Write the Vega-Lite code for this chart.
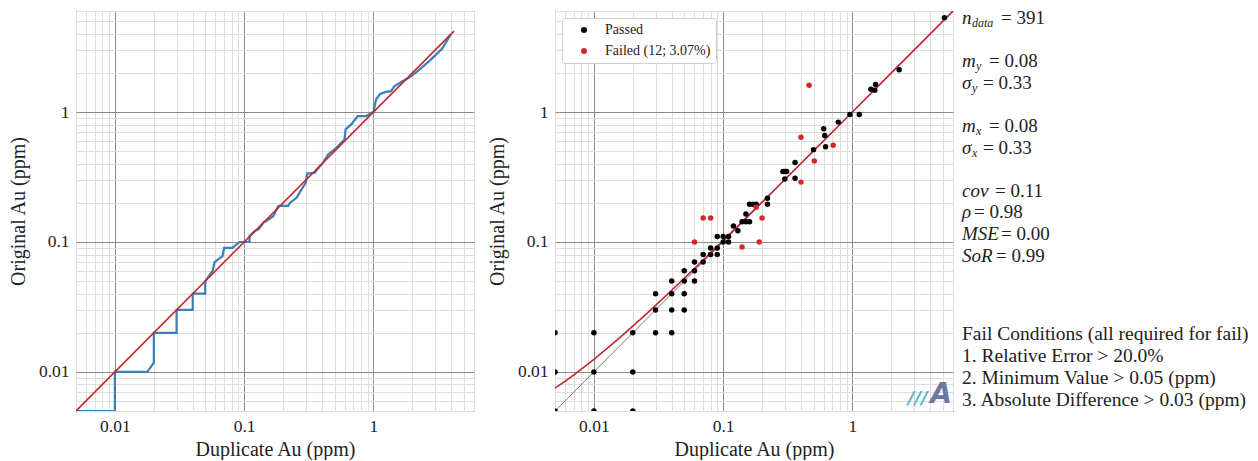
{
  "$schema": "https://vega.github.io/schema/vega-lite/v6.json",
  "padding": {"left": 7, "top": 1, "right": 0, "bottom": 0},
  "autosize": {"type": "pad"},
  "bounds": "flush",
  "spacing": 81,
  "resolve": {"legend": {"color": "independent"}},
  "config": {
    "font": "Liberation Serif",
    "background": "white",
    "view": {"stroke": "#222", "strokeWidth": 1},
    "axis": {
      "labelFont": "Liberation Serif", "labelFontSize": 17.5, "labelColor": "#222",
      "titleFont": "Liberation Serif", "titleFontSize": 20, "titleFontWeight": "normal", "titleColor": "#222",
      "ticks": false, "domain": false,
      "labelOverlap": false, "labelFlush": false, "gridWidth": 1
    },
    "axisX": {"labelPadding": 6, "titlePadding": 5},
    "axisY": {"labelPadding": 7, "titlePadding": 10},
    "legend": {
      "orient": "top-left", "offset": 7, "labelFont": "Liberation Serif", "labelFontSize": 14, "labelColor": "#222",
      "symbolType": "circle", "symbolSize": 36, "fillColor": "white", "strokeColor": "#d0d0d0",
      "cornerRadius": 3, "padding": 5, "labelOffset": 14, "rowPadding": 7, "symbolOffset": 10
    }
  },
  "datasets": {
    "qq": [
      {"i": 0, "dup": 0.005, "orig": 0.005}, {"i": 1, "dup": 0.01, "orig": 0.005}, {"i": 2, "dup": 0.01, "orig": 0.01},
      {"i": 3, "dup": 0.0178, "orig": 0.01}, {"i": 4, "dup": 0.02, "orig": 0.0118}, {"i": 5, "dup": 0.02, "orig": 0.02},
      {"i": 6, "dup": 0.03, "orig": 0.02}, {"i": 7, "dup": 0.03, "orig": 0.03}, {"i": 8, "dup": 0.04, "orig": 0.03},
      {"i": 9, "dup": 0.04, "orig": 0.04}, {"i": 10, "dup": 0.05, "orig": 0.04}, {"i": 11, "dup": 0.05, "orig": 0.05},
      {"i": 12, "dup": 0.057, "orig": 0.06}, {"i": 13, "dup": 0.059, "orig": 0.07}, {"i": 14, "dup": 0.068, "orig": 0.078},
      {"i": 15, "dup": 0.07, "orig": 0.09}, {"i": 16, "dup": 0.081, "orig": 0.09}, {"i": 17, "dup": 0.092, "orig": 0.1},
      {"i": 18, "dup": 0.11, "orig": 0.1}, {"i": 19, "dup": 0.11, "orig": 0.111}, {"i": 20, "dup": 0.122, "orig": 0.122},
      {"i": 21, "dup": 0.129, "orig": 0.125}, {"i": 22, "dup": 0.141, "orig": 0.141}, {"i": 23, "dup": 0.154, "orig": 0.149},
      {"i": 24, "dup": 0.168, "orig": 0.158}, {"i": 25, "dup": 0.178, "orig": 0.178}, {"i": 26, "dup": 0.184, "orig": 0.19},
      {"i": 27, "dup": 0.219, "orig": 0.19}, {"i": 28, "dup": 0.226, "orig": 0.2}, {"i": 29, "dup": 0.254, "orig": 0.219},
      {"i": 30, "dup": 0.278, "orig": 0.254}, {"i": 31, "dup": 0.3, "orig": 0.286}, {"i": 32, "dup": 0.307, "orig": 0.336},
      {"i": 33, "dup": 0.352, "orig": 0.341}, {"i": 34, "dup": 0.367, "orig": 0.362}, {"i": 35, "dup": 0.408, "orig": 0.408},
      {"i": 36, "dup": 0.446, "orig": 0.472}, {"i": 37, "dup": 0.501, "orig": 0.516}, {"i": 38, "dup": 0.598, "orig": 0.616},
      {"i": 39, "dup": 0.609, "orig": 0.736}, {"i": 40, "dup": 0.673, "orig": 0.804}, {"i": 41, "dup": 0.757, "orig": 0.932},
      {"i": 42, "dup": 0.879, "orig": 0.932}, {"i": 43, "dup": 1.0, "orig": 1.0}, {"i": 44, "dup": 1.048, "orig": 1.25},
      {"i": 45, "dup": 1.125, "orig": 1.38}, {"i": 46, "dup": 1.25, "orig": 1.43}, {"i": 47, "dup": 1.37, "orig": 1.45},
      {"i": 48, "dup": 1.45, "orig": 1.58}, {"i": 49, "dup": 1.68, "orig": 1.73}, {"i": 50, "dup": 1.89, "orig": 1.84},
      {"i": 51, "dup": 2.13, "orig": 2.01}, {"i": 52, "dup": 2.7, "orig": 2.47}, {"i": 53, "dup": 3.41, "orig": 3.09},
      {"i": 54, "dup": 3.96, "orig": 3.96}
    ],
    "line11": [{"dup": 0.005, "orig": 0.005}, {"dup": 4.2, "orig": 4.2}],
    "diag": [{"dup": 0.005, "orig": 0.005}, {"dup": 6, "orig": 6}],
    "fit": [
      {"dup": 0.005, "orig": 0.0075}, {"dup": 0.006, "orig": 0.0085}, {"dup": 0.007, "orig": 0.0095},
      {"dup": 0.008, "orig": 0.0105}, {"dup": 0.01, "orig": 0.0125}, {"dup": 0.012, "orig": 0.0145},
      {"dup": 0.015, "orig": 0.0175}, {"dup": 0.02, "orig": 0.0225}, {"dup": 0.025, "orig": 0.0275},
      {"dup": 0.03, "orig": 0.0325}, {"dup": 0.04, "orig": 0.0425}, {"dup": 0.05, "orig": 0.0525},
      {"dup": 0.07, "orig": 0.0725}, {"dup": 0.1, "orig": 0.1025}, {"dup": 0.15, "orig": 0.1525},
      {"dup": 0.2, "orig": 0.2025}, {"dup": 0.3, "orig": 0.3025}, {"dup": 0.5, "orig": 0.5025},
      {"dup": 1, "orig": 1.0025}, {"dup": 2, "orig": 2.002}, {"dup": 4, "orig": 4.0}, {"dup": 6, "orig": 6.0}
    ],
    "scatter": [
      {"dup": 0.005, "orig": 0.02, "status": "Passed"}, {"dup": 0.005, "orig": 0.01, "status": "Passed"}, {"dup": 0.005, "orig": 0.005, "status": "Passed"},
      {"dup": 0.01, "orig": 0.02, "status": "Passed"}, {"dup": 0.01, "orig": 0.01, "status": "Passed"}, {"dup": 0.01, "orig": 0.005, "status": "Passed"},
      {"dup": 0.02, "orig": 0.02, "status": "Passed"}, {"dup": 0.02, "orig": 0.01, "status": "Passed"}, {"dup": 0.02, "orig": 0.005, "status": "Passed"},
      {"dup": 0.03, "orig": 0.04, "status": "Passed"}, {"dup": 0.03, "orig": 0.03, "status": "Passed"}, {"dup": 0.03, "orig": 0.02, "status": "Passed"},
      {"dup": 0.04, "orig": 0.05, "status": "Passed"}, {"dup": 0.04, "orig": 0.04, "status": "Passed"}, {"dup": 0.04, "orig": 0.03, "status": "Passed"}, {"dup": 0.04, "orig": 0.02, "status": "Passed"},
      {"dup": 0.05, "orig": 0.06, "status": "Passed"}, {"dup": 0.05, "orig": 0.05, "status": "Passed"}, {"dup": 0.05, "orig": 0.04, "status": "Passed"}, {"dup": 0.05, "orig": 0.03, "status": "Passed"},
      {"dup": 0.06, "orig": 0.07, "status": "Passed"}, {"dup": 0.06, "orig": 0.06, "status": "Passed"}, {"dup": 0.06, "orig": 0.05, "status": "Passed"},
      {"dup": 0.07, "orig": 0.08, "status": "Passed"}, {"dup": 0.07, "orig": 0.07, "status": "Passed"},
      {"dup": 0.08, "orig": 0.09, "status": "Passed"}, {"dup": 0.08, "orig": 0.08, "status": "Passed"},
      {"dup": 0.09, "orig": 0.11, "status": "Passed"}, {"dup": 0.09, "orig": 0.09, "status": "Passed"}, {"dup": 0.09, "orig": 0.08, "status": "Passed"},
      {"dup": 0.1, "orig": 0.11, "status": "Passed"}, {"dup": 0.1, "orig": 0.1, "status": "Passed"},
      {"dup": 0.11, "orig": 0.11, "status": "Passed"}, {"dup": 0.11, "orig": 0.1, "status": "Passed"},
      {"dup": 0.12, "orig": 0.133, "status": "Passed"}, {"dup": 0.13, "orig": 0.122, "status": "Passed"},
      {"dup": 0.14, "orig": 0.143, "status": "Passed"}, {"dup": 0.15, "orig": 0.164, "status": "Passed"}, {"dup": 0.15, "orig": 0.143, "status": "Passed"},
      {"dup": 0.16, "orig": 0.195, "status": "Passed"}, {"dup": 0.16, "orig": 0.143, "status": "Passed"},
      {"dup": 0.17, "orig": 0.195, "status": "Passed"}, {"dup": 0.18, "orig": 0.195, "status": "Passed"},
      {"dup": 0.22, "orig": 0.217, "status": "Passed"}, {"dup": 0.22, "orig": 0.195, "status": "Passed"},
      {"dup": 0.29, "orig": 0.349, "status": "Passed"}, {"dup": 0.3, "orig": 0.349, "status": "Passed"}, {"dup": 0.31, "orig": 0.349, "status": "Passed"}, {"dup": 0.3, "orig": 0.306, "status": "Passed"},
      {"dup": 0.36, "orig": 0.41, "status": "Passed"}, {"dup": 0.36, "orig": 0.31, "status": "Passed"},
      {"dup": 0.5, "orig": 0.514, "status": "Passed"},
      {"dup": 0.6, "orig": 0.743, "status": "Passed"}, {"dup": 0.61, "orig": 0.66, "status": "Passed"}, {"dup": 0.62, "orig": 0.54, "status": "Passed"},
      {"dup": 0.777, "orig": 0.837, "status": "Passed"},
      {"dup": 0.956, "orig": 0.96, "status": "Passed"}, {"dup": 1.13, "orig": 0.96, "status": "Passed"},
      {"dup": 1.39, "orig": 1.5, "status": "Passed"}, {"dup": 1.49, "orig": 1.47, "status": "Passed"}, {"dup": 1.51, "orig": 1.63, "status": "Passed"},
      {"dup": 2.3, "orig": 2.12, "status": "Passed"},
      {"dup": 5.15, "orig": 5.33, "status": "Passed"},
      {"dup": 0.06, "orig": 0.1, "status": "Failed"}, {"dup": 0.07, "orig": 0.153, "status": "Failed"}, {"dup": 0.08, "orig": 0.153, "status": "Failed"},
      {"dup": 0.14, "orig": 0.0915, "status": "Failed"}, {"dup": 0.19, "orig": 0.1, "status": "Failed"}, {"dup": 0.2, "orig": 0.153, "status": "Failed"},
      {"dup": 0.18, "orig": 0.185, "status": "Failed"},
      {"dup": 0.4, "orig": 0.64, "status": "Failed"}, {"dup": 0.4, "orig": 0.289, "status": "Failed"}, {"dup": 0.462, "orig": 1.61, "status": "Failed"},
      {"dup": 0.507, "orig": 0.42, "status": "Failed"}, {"dup": 0.71, "orig": 0.555, "status": "Failed"}
    ],
    "stats": [
      {"line": 0, "sym": "n", "sub": "data", "rest": "= 391"},
      {"line": 2, "sym": "m", "sub": "y", "rest": "= 0.08"},
      {"line": 3, "sym": "σ", "sub": "y", "rest": "= 0.33"},
      {"line": 5, "sym": "m", "sub": "x", "rest": "= 0.08"},
      {"line": 6, "sym": "σ", "sub": "x", "rest": "= 0.33"},
      {"line": 8, "sym": "cov", "sub": "", "rest": "= 0.11"},
      {"line": 9, "sym": "ρ", "sub": "", "rest": "= 0.98"},
      {"line": 10, "sym": "MSE", "sub": "", "rest": "= 0.00"},
      {"line": 11, "sym": "SoR", "sub": "", "rest": "= 0.99"}
    ],
    "fail": [
      {"line": 0, "text": "Fail Conditions (all required for fail)"},
      {"line": 1, "text": "1. Relative Error > 20.0%"},
      {"line": 2, "text": "2. Minimum Value > 0.05 (ppm)"},
      {"line": 3, "text": "3. Absolute Difference > 0.03 (ppm)"}
    ]
  },
  "hconcat": [
    {
      "width": 398, "height": 400,
      "layer": [
        {
          "data": {"name": "qq"},
          "mark": {"type": "line", "color": "#3a7fb6", "strokeWidth": 2.2, "clip": true},
          "encoding": {
            "x": {"field": "dup", "type": "quantitative", "scale": {"type": "log", "domain": [0.005, 6], "nice": false},
              "axis": {"title": "Duplicate Au (ppm)",
                "values": [0.005,0.006,0.007,0.008,0.009,0.01,0.02,0.03,0.04,0.05,0.06,0.07,0.08,0.09,0.1,0.2,0.3,0.4,0.5,0.6,0.7,0.8,0.9,1,2,3,4,5,6],
                "labelExpr": "datum.value == 0.01 ? '0.01' : datum.value == 0.1 ? '0.1' : datum.value == 1 ? '1' : ''",
                "gridColor": {"condition": {"test": "datum.value == 0.01 || datum.value == 0.1 || datum.value == 1", "value": "#8c8c8c"}, "value": "#dedede"}}},
            "y": {"field": "orig", "type": "quantitative", "scale": {"type": "log", "domain": [0.005, 6], "nice": false},
              "axis": {"title": "Original Au (ppm)",
                "values": [0.005,0.006,0.007,0.008,0.009,0.01,0.02,0.03,0.04,0.05,0.06,0.07,0.08,0.09,0.1,0.2,0.3,0.4,0.5,0.6,0.7,0.8,0.9,1,2,3,4,5,6],
                "labelExpr": "datum.value == 0.01 ? '0.01' : datum.value == 0.1 ? '0.1' : datum.value == 1 ? '1' : ''",
                "gridColor": {"condition": {"test": "datum.value == 0.01 || datum.value == 0.1 || datum.value == 1", "value": "#8c8c8c"}, "value": "#dedede"}}},
            "order": {"field": "i", "type": "quantitative"}
          }
        },
        {
          "data": {"name": "line11"},
          "mark": {"type": "line", "color": "#c0282e", "strokeWidth": 1.6, "clip": true},
          "encoding": {
            "x": {"field": "dup", "type": "quantitative"},
            "y": {"field": "orig", "type": "quantitative"}
          }
        }
      ]
    },
    {
      "width": 398, "height": 400,
      "layer": [
        {
          "data": {"name": "diag"},
          "mark": {"type": "line", "color": "#555555", "strokeWidth": 0.8, "clip": true},
          "encoding": {
            "x": {"field": "dup", "type": "quantitative", "scale": {"type": "log", "domain": [0.005, 6], "nice": false},
              "axis": {"title": "Duplicate Au (ppm)",
                "values": [0.005,0.006,0.007,0.008,0.009,0.01,0.02,0.03,0.04,0.05,0.06,0.07,0.08,0.09,0.1,0.2,0.3,0.4,0.5,0.6,0.7,0.8,0.9,1,2,3,4,5,6],
                "labelExpr": "datum.value == 0.01 ? '0.01' : datum.value == 0.1 ? '0.1' : datum.value == 1 ? '1' : ''",
                "gridColor": {"condition": {"test": "datum.value == 0.01 || datum.value == 0.1 || datum.value == 1", "value": "#8c8c8c"}, "value": "#dedede"}}},
            "y": {"field": "orig", "type": "quantitative", "scale": {"type": "log", "domain": [0.005, 6], "nice": false},
              "axis": {"title": "Original Au (ppm)",
                "values": [0.005,0.006,0.007,0.008,0.009,0.01,0.02,0.03,0.04,0.05,0.06,0.07,0.08,0.09,0.1,0.2,0.3,0.4,0.5,0.6,0.7,0.8,0.9,1,2,3,4,5,6],
                "labelExpr": "datum.value == 0.01 ? '0.01' : datum.value == 0.1 ? '0.1' : datum.value == 1 ? '1' : ''",
                "gridColor": {"condition": {"test": "datum.value == 0.01 || datum.value == 0.1 || datum.value == 1", "value": "#8c8c8c"}, "value": "#dedede"}}}
          }
        },
        {
          "data": {"name": "fit"},
          "mark": {"type": "line", "color": "#c0282e", "strokeWidth": 1.6, "clip": true},
          "encoding": {
            "x": {"field": "dup", "type": "quantitative"},
            "y": {"field": "orig", "type": "quantitative"}
          }
        },
        {
          "data": {"name": "scatter"},
          "mark": {"type": "point", "filled": true, "opacity": 1, "size": 30, "clip": true},
          "encoding": {
            "x": {"field": "dup", "type": "quantitative"},
            "y": {"field": "orig", "type": "quantitative"},
            "color": {"field": "status", "type": "nominal",
              "scale": {"domain": ["Passed", "Failed"], "range": ["#000000", "#d62728"]},
              "legend": {"title": null, "labelExpr": "datum.label == 'Failed' ? 'Failed (12; 3.07%)' : datum.label"}}
          }
        },
        {
          "data": {"values": [{}]},
          "mark": {"type": "text", "text": "///", "font": "DejaVu Sans", "fontSize": 18, "fontWeight": "bold", "fontStyle": "italic", "color": "#5ab8c4", "align": "center", "baseline": "middle"},
          "encoding": {
            "x": {"datum": 3.2, "type": "quantitative"},
            "y": {"datum": 0.0062, "type": "quantitative"}
          }
        },
        {
          "data": {"values": [{}]},
          "mark": {"type": "text", "text": "A", "font": "DejaVu Sans", "fontSize": 28, "fontWeight": "bold", "fontStyle": "italic", "color": "#6b79a0", "align": "center", "baseline": "middle"},
          "encoding": {
            "x": {"datum": 4.85, "type": "quantitative"},
            "y": {"datum": 0.0066, "type": "quantitative"}
          }
        }
      ]
    },
    {
      "width": 10, "height": 400,
      "view": {"stroke": null},
      "resolve": {"scale": {"y": "independent"}},
      "layer": [
        {
          "data": {"name": "stats"},
          "mark": {"type": "text", "align": "left", "baseline": "middle", "fontSize": 19, "fontStyle": "italic", "color": "#222"},
          "encoding": {
            "x": {"datum": 0, "type": "quantitative", "scale": {"domain": [7.2, 8.2], "nice": false, "zero": false}, "axis": null},
            "y": {"field": "line", "type": "quantitative", "scale": {"domain": [-0.324, 18.19], "reverse": true, "nice": false, "zero": false}, "axis": null},
            "text": {"field": "sym"}
          }
        },
        {
          "data": {"name": "stats"},
          "transform": [{"filter": "datum.sym == 'n' || datum.sym == 'σ'"}],
          "mark": {"type": "text", "align": "left", "baseline": "middle", "fontSize": 12, "fontStyle": "italic", "color": "#222", "dx": 10, "dy": 5},
          "encoding": {
            "x": {"datum": 0, "type": "quantitative", "scale": {"domain": [7.2, 8.2], "nice": false, "zero": false}, "axis": null},
            "y": {"field": "line", "type": "quantitative", "scale": {"domain": [-0.324, 18.19], "reverse": true, "nice": false, "zero": false}, "axis": null},
            "text": {"field": "sub"}
          }
        },
        {
          "data": {"name": "stats"},
          "transform": [{"filter": "datum.sym == 'm'"}],
          "mark": {"type": "text", "align": "left", "baseline": "middle", "fontSize": 12, "fontStyle": "italic", "color": "#222", "dx": 14, "dy": 5},
          "encoding": {
            "x": {"datum": 0, "type": "quantitative", "scale": {"domain": [7.2, 8.2], "nice": false, "zero": false}, "axis": null},
            "y": {"field": "line", "type": "quantitative", "scale": {"domain": [-0.324, 18.19], "reverse": true, "nice": false, "zero": false}, "axis": null},
            "text": {"field": "sub"}
          }
        },
        {
          "data": {"name": "stats"},
          "transform": [{"filter": {"field": "sym", "oneOf": ["n", "MSE"]}}],
          "mark": {"type": "text", "align": "left", "baseline": "middle", "fontSize": 19, "color": "#222", "dx": 39},
          "encoding": {
            "x": {"datum": 0, "type": "quantitative", "scale": {"domain": [7.2, 8.2], "nice": false, "zero": false}, "axis": null},
            "y": {"field": "line", "type": "quantitative", "scale": {"domain": [-0.324, 18.19], "reverse": true, "nice": false, "zero": false}, "axis": null},
            "text": {"field": "rest"}
          }
        },
        {
          "data": {"name": "stats"},
          "transform": [{"filter": {"field": "sym", "oneOf": ["cov"]}}],
          "mark": {"type": "text", "align": "left", "baseline": "middle", "fontSize": 19, "color": "#222", "dx": 33},
          "encoding": {
            "x": {"datum": 0, "type": "quantitative", "scale": {"domain": [7.2, 8.2], "nice": false, "zero": false}, "axis": null},
            "y": {"field": "line", "type": "quantitative", "scale": {"domain": [-0.324, 18.19], "reverse": true, "nice": false, "zero": false}, "axis": null},
            "text": {"field": "rest"}
          }
        },
        {
          "data": {"name": "stats"},
          "transform": [{"filter": {"field": "sym", "oneOf": ["m"]}}],
          "mark": {"type": "text", "align": "left", "baseline": "middle", "fontSize": 19, "color": "#222", "dx": 27},
          "encoding": {
            "x": {"datum": 0, "type": "quantitative", "scale": {"domain": [7.2, 8.2], "nice": false, "zero": false}, "axis": null},
            "y": {"field": "line", "type": "quantitative", "scale": {"domain": [-0.324, 18.19], "reverse": true, "nice": false, "zero": false}, "axis": null},
            "text": {"field": "rest"}
          }
        },
        {
          "data": {"name": "stats"},
          "transform": [{"filter": {"field": "sym", "oneOf": ["σ"]}}],
          "mark": {"type": "text", "align": "left", "baseline": "middle", "fontSize": 19, "color": "#222", "dx": 21},
          "encoding": {
            "x": {"datum": 0, "type": "quantitative", "scale": {"domain": [7.2, 8.2], "nice": false, "zero": false}, "axis": null},
            "y": {"field": "line", "type": "quantitative", "scale": {"domain": [-0.324, 18.19], "reverse": true, "nice": false, "zero": false}, "axis": null},
            "text": {"field": "rest"}
          }
        },
        {
          "data": {"name": "stats"},
          "transform": [{"filter": {"field": "sym", "oneOf": ["ρ"]}}],
          "mark": {"type": "text", "align": "left", "baseline": "middle", "fontSize": 19, "color": "#222", "dx": 12},
          "encoding": {
            "x": {"datum": 0, "type": "quantitative", "scale": {"domain": [7.2, 8.2], "nice": false, "zero": false}, "axis": null},
            "y": {"field": "line", "type": "quantitative", "scale": {"domain": [-0.324, 18.19], "reverse": true, "nice": false, "zero": false}, "axis": null},
            "text": {"field": "rest"}
          }
        },
        {
          "data": {"name": "stats"},
          "transform": [{"filter": {"field": "sym", "oneOf": ["SoR"]}}],
          "mark": {"type": "text", "align": "left", "baseline": "middle", "fontSize": 19, "color": "#222", "dx": 34},
          "encoding": {
            "x": {"datum": 0, "type": "quantitative", "scale": {"domain": [7.2, 8.2], "nice": false, "zero": false}, "axis": null},
            "y": {"field": "line", "type": "quantitative", "scale": {"domain": [-0.324, 18.19], "reverse": true, "nice": false, "zero": false}, "axis": null},
            "text": {"field": "rest"}
          }
        },
        {
          "data": {"name": "fail"},
          "mark": {"type": "text", "align": "left", "baseline": "middle", "fontSize": 19.5, "color": "#222"},
          "encoding": {
            "x": {"datum": 0, "type": "quantitative", "scale": {"domain": [7.2, 8.2], "nice": false, "zero": false}, "axis": null},
            "y": {"field": "line", "type": "quantitative", "scale": {"domain": [-14.68, 3.5], "reverse": true, "nice": false, "zero": false}, "axis": null},
            "text": {"field": "text"}
          }
        }
      ]
    }
  ]
}
